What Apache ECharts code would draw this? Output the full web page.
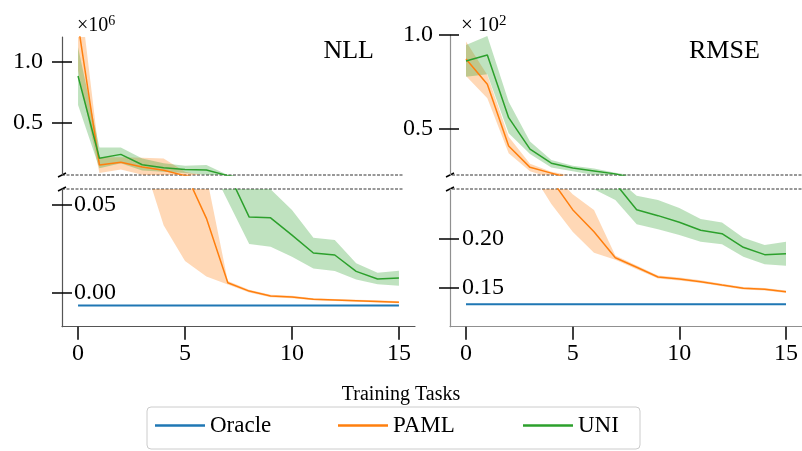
<!DOCTYPE html>
<html><head><meta charset="utf-8">
<script src="https://cdn.jsdelivr.net/npm/echarts@6/dist/echarts.min.js"></script>
<style>html,body{margin:0;padding:0;background:#fff}#c{width:802px;height:451px}</style>
</head><body><div id="c"></div>
<script>
const tasks = [0,1,2,3,4,5,6,7,8,9,10,11,12,13,14,15];
const xTicks = [0,5,10,15];

// NLL (x10^6)
const nllOracle = [-0.0075,-0.0075,-0.0075,-0.0075,-0.0075,-0.0075,-0.0075,-0.0075,-0.0075,-0.0075,-0.0075,-0.0075,-0.0075,-0.0075,-0.0075,-0.0075];
const nllPAML = [1.31,0.156,0.178,0.139,0.113,0.069,0.0424,0.0055,0.0007,-0.0021,-0.0027,-0.0040,-0.0044,-0.0048,-0.0052,-0.0057];
const nllPAMLLow = [0.93,0.09,0.12,0.077,0.0385,0.018,0.009,0.0045,-0.0001,-0.0028,-0.0034,-0.0046,-0.0050,-0.0054,-0.0058,-0.0063];
const nllPAMLHigh = [1.69,0.22,0.22,0.216,0.21,0.10,0.067,0.0065,0.0015,-0.0014,-0.0020,-0.0034,-0.0038,-0.0042,-0.0046,-0.0051];
const nllUNI = [0.885,0.211,0.243,0.158,0.134,0.120,0.115,0.069,0.0431,0.0427,0.0328,0.0225,0.0214,0.0120,0.0076,0.0082];
const nllUNILow = [0.648,0.13,0.17,0.11,0.10,0.09,0.077,0.0523,0.0277,0.0261,0.0204,0.0137,0.0122,0.0074,0.0046,0.0038];
const nllUNIHigh = [1.12,0.30,0.30,0.21,0.17,0.15,0.156,0.075,0.065,0.059,0.0471,0.0313,0.030,0.0166,0.0112,0.0124];

// RMSE (x10^2)
const rmseOracle = [0.1327,0.1327,0.1327,0.1327,0.1327,0.1327,0.1327,0.1327,0.1327,0.1327,0.1327,0.1327,0.1327,0.1327,0.1327,0.1327];
const rmsePAML = [0.871,0.736,0.405,0.291,0.260,0.2292,0.2067,0.1802,0.1704,0.1605,0.1585,0.1557,0.1523,0.1490,0.1480,0.1455];
const rmsePAMLLow = [0.78,0.661,0.366,0.27,0.235,0.2067,0.1853,0.178,0.1685,0.159,0.157,0.1543,0.151,0.1477,0.1467,0.1442];
const rmsePAMLHigh = [0.965,0.786,0.455,0.31,0.268,0.245,0.2289,0.1825,0.1722,0.162,0.160,0.1571,0.1536,0.1503,0.1493,0.1468];
const rmseUNI = [0.861,0.893,0.557,0.389,0.313,0.288,0.272,0.256,0.2292,0.2231,0.2163,0.2082,0.2047,0.1908,0.1833,0.1843];
const rmseUNILow = [0.777,0.79,0.473,0.363,0.29,0.27,0.25,0.239,0.2143,0.2092,0.2034,0.1966,0.1939,0.1812,0.1735,0.172];
const rmseUNIHigh = [0.946,0.995,0.643,0.429,0.33,0.30,0.285,0.262,0.2435,0.239,0.231,0.2197,0.216,0.2006,0.1932,0.1966];

const nllTopTicks = [0.5, 1.0];
const nllBotTicks = [0.00, 0.05];
const rmseTopTicks = [0.5, 1.0];
const rmseBotTicks = [0.15, 0.20];

const FONT = 'Liberation Serif';
const C_BLUE = '#1f77b4', C_ORANGE = '#ff7f0e', C_GREEN = '#2ca02c';

const GRID_W = 353;
const grids = [
  {left: 62, top: 37, width: GRID_W, height: 138},
  {left: 62, top: 189, width: GRID_W, height: 137.7},
  {left: 450, top: 35, width: GRID_W, height: 140},
  {left: 450, top: 189, width: GRID_W, height: 137.7}
];

function xAx(g, show, lineColor) {
  return {
    type: 'value', gridIndex: g, min: -0.75, max: 15.75, position: 'bottom',
    show: show,
    axisLine: {show: show, onZero: false, lineStyle: {color: lineColor, width: 1.2}},
    axisTick: {show: show, length: 13, customValues: xTicks, lineStyle: {color: '#000', width: 1.5}},
    axisLabel: {show: show, customValues: xTicks, margin: 15, fontSize: 24, fontFamily: FONT, color: '#000'},
    splitLine: {show: false}
  };
}
// main y axis: line + labels
function yAxMain(g, min, max, ticks, dec, inside, margin, lineColor) {
  return {
    type: 'value', gridIndex: g, min: min, max: max, position: 'left',
    axisLine: {show: true, onZero: false, lineStyle: {color: lineColor, width: 1.2}},
    axisTick: {show: false},
    axisLabel: {customValues: ticks, inside: inside, margin: margin, fontSize: 24, fontFamily: FONT, color: '#000',
                formatter: v => Number(v).toFixed(dec)},
    splitLine: {show: false}
  };
}
// tick-only y axis: placed on the right side and shifted back over the left spine so ticks cross it
function yAxTicks(g, min, max, ticks) {
  return {
    type: 'value', gridIndex: g, min: min, max: max, position: 'right', offset: -(GRID_W + 10),
    axisLine: {show: true, onZero: false, lineStyle: {color: 'rgba(0,0,0,0)', width: 0}},
    axisTick: {show: true, length: 20, customValues: ticks, lineStyle: {color: '#000', width: 1.5}},
    axisLabel: {show: true, customValues: ticks, color: 'rgba(0,0,0,0)', formatter: () => ''},
    splitLine: {show: false}
  };
}

const xAxes = [xAx(0, false, '#555'), xAx(1, true, '#555'), xAx(2, false, '#909090'), xAx(3, true, '#909090')];
const yAxes = [
  yAxMain(0, 0.074, 1.205, nllTopTicks, 1, false, 19, '#555'),
  yAxMain(1, -0.0197, 0.0592, nllBotTicks, 2, true, 12, '#555'),
  yAxMain(2, 0.25, 1.0, rmseTopTicks, 1, false, 17, '#909090'),
  yAxMain(3, 0.1098, 0.2503, rmseBotTicks, 2, true, 12, '#909090'),
  yAxTicks(0, 0.074, 1.205, nllTopTicks),
  yAxTicks(1, -0.0197, 0.0592, nllBotTicks),
  yAxTicks(2, 0.25, 1.0, rmseTopTicks),
  yAxTicks(3, 0.1098, 0.2503, rmseBotTicks)
];

function pairs(arr) { return tasks.map((t, i) => [t, arr[i]]); }
function lineS(name, g, arr, color, width) {
  return {type: 'line', name: name, xAxisIndex: g, yAxisIndex: g, data: pairs(arr),
          symbol: 'none', clip: true, lineStyle: {color: color, width: width}, itemStyle: {color: color}};
}
function bandS(key, g, lo, hi, color) {
  return {
    type: 'custom', name: key + 'Band', xAxisIndex: g, yAxisIndex: g, clip: true, silent: true,
    data: tasks.map((t, i) => [t, lo[i], hi[i]]),
    encode: {x: 0, y: [1, 2]},
    renderItem: function (params, api) {
      if (params.dataIndex !== 0) return null;
      const pts = [];
      for (let i = 0; i < tasks.length; i++) pts.push(api.coord([tasks[i], hi[i]]));
      for (let i = tasks.length - 1; i >= 0; i--) pts.push(api.coord([tasks[i], lo[i]]));
      return {type: 'polygon', shape: {points: pts}, style: {fill: color, opacity: 0.3}};
    }
  };
}

const series = [];
function panel(gs, oracle, paml, pamlLo, pamlHi, uni, uniLo, uniHi) {
  gs.forEach(g => {
    series.push(lineS('Oracle', g, oracle, C_BLUE, 2));
    series.push(lineS('PAML', g, paml, C_ORANGE, 1.5));
    series.push(bandS('PAML', g, pamlLo, pamlHi, C_ORANGE));
    series.push(lineS('UNI', g, uni, C_GREEN, 1.5));
    series.push(bandS('UNI', g, uniLo, uniHi, C_GREEN));
  });
}
panel([0, 1], nllOracle, nllPAML, nllPAMLLow, nllPAMLHigh, nllUNI, nllUNILow, nllUNIHigh);
panel([2, 3], rmseOracle, rmsePAML, rmsePAMLLow, rmsePAMLHigh, rmseUNI, rmseUNILow, rmseUNIHigh);

function legendFor(name, left) {
  return {data: [name], left: left, top: 414, icon: 'rect', itemWidth: 50, itemHeight: 2.5, padding: 0,
          itemGap: 0, selectedMode: false, textStyle: {fontSize: 23, fontFamily: FONT, color: '#000'}};
}

function breakMark(x, y) {
  return {type: 'line', shape: {x1: x - 4, y1: y + 2, x2: x + 4, y2: y - 2}, style: {stroke: '#000', lineWidth: 1.5}};
}
function dashLine(x1, x2, y) {
  return {type: 'line', shape: {x1: x1, y1: y, x2: x2, y2: y}, style: {stroke: '#333', lineWidth: 1, lineDash: [3, 1.5]}};
}

const option = {
  animation: false,
  backgroundColor: '#fff',
  grid: grids,
  xAxis: xAxes,
  yAxis: yAxes,
  series: series,
  legend: [legendFor('Oracle', 155), legendFor('PAML', 338), legendFor('UNI', 523)],
  title: [
    {text: 'NLL', right: 423, top: 33, textStyle: {fontSize: 26, fontWeight: 'normal', fontFamily: FONT, color: '#000'}},
    {text: 'RMSE', left: 684, top: 33, textStyle: {fontSize: 26, fontWeight: 'normal', fontFamily: FONT, color: '#000'}},
    {text: '{a|×10}{b|6}', left: 72, top: 9, textStyle: {fontWeight: 'normal', rich: {
      a: {fontSize: 20, fontWeight: 'normal', fontFamily: FONT, color: '#000', verticalAlign: 'bottom', lineHeight: 22},
      b: {fontSize: 14, fontWeight: 'normal', fontFamily: FONT, color: '#000', verticalAlign: 'top', lineHeight: 22}}}},
    {text: '{a|× 10}{b|2}', left: 456, top: 9, textStyle: {fontWeight: 'normal', rich: {
      a: {fontSize: 21, fontWeight: 'normal', fontFamily: FONT, color: '#000', verticalAlign: 'bottom', lineHeight: 22},
      b: {fontSize: 15, fontWeight: 'normal', fontFamily: FONT, color: '#000', verticalAlign: 'top', lineHeight: 22}}}},
    {text: 'Training Tasks', left: 'center', top: 380, textStyle: {fontSize: 20, fontWeight: 'normal', fontFamily: FONT, color: '#000'}}
  ],
  graphic: [
    {type: 'rect', shape: {x: 147, y: 407, width: 493, height: 42, r: 4}, style: {fill: 'rgba(0,0,0,0)', stroke: '#cccccc', lineWidth: 1}},
    dashLine(62, 403, 175), dashLine(62, 403, 189),
    dashLine(452, 802, 175), dashLine(452, 802, 189),
    breakMark(62, 175), breakMark(62, 189),
    breakMark(450, 175), breakMark(450, 189)
  ]
};

const chart = echarts.init(document.getElementById('c'), null, {renderer: 'canvas'});
chart.setOption(option);
</script>
</body></html>
